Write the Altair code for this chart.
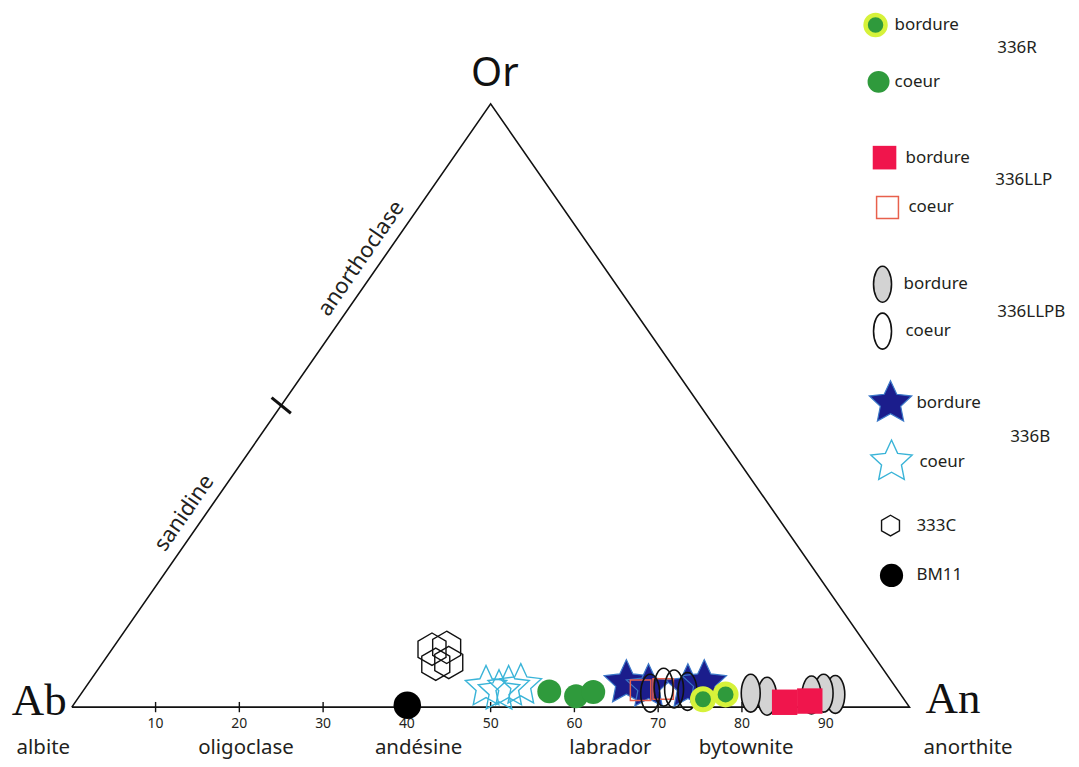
import math
import altair as alt
import pandas as pd

# ---------------- compositions (mol % An, mol % Or) ----------------
an_333C = [38.2, 39.8, 39.9, 41.3]
or_333C = [9.6, 9.9, 7.1, 7.4]
an_336B_coeur = [47.8, 49.7, 50.5, 51.8]
or_336B_coeur = [3.3, 2.6, 3.3, 3.6]
an_336R_coeur = [55.7, 59.3, 61.0]
or_336R_coeur = [2.6, 1.8, 2.5]
an_336B_bordure = [64.2, 67.2, 71.9, 73.5]
or_336B_bordure = [4.0, 3.3, 3.3, 4.0]
an_336LLP_coeur = [66.5, 69.1]
or_336LLP_coeur = [2.8, 3.0]
an_336LLPB_coeur = [67.9, 69.0, 70.4, 72.2]
or_336LLPB_coeur = [2.3, 3.3, 3.0, 2.6]
an_336R_bordure = [74.7, 77.0]
or_336R_bordure = [1.3, 2.1]
an_336LLPB_bordure = [90.1, 88.6, 87.3, 82.1, 79.9]
or_336LLPB_bordure = [2.1, 2.3, 2.0, 1.8, 2.3]
an_336LLP_bordure = [84.7, 87.6]
or_336LLP_bordure = [0.8, 1.0]
an_BM11 = [39.9]
or_BM11 = [0.3]

# ---------------- texts ----------------
tick_values = [10, 20, 30, 40, 50, 60, 70, 80, 90]
minerals = ["albite", "oligoclase", "andésine", "labrador", "bytownite", "anorthite"]
mineral_at = [-3.4, 20.8, 41.4, 64.3, 80.5, 107.0]          # along the Ab-An join
vertex_names = ["Ab", "An", "Or"]
edge_names = ["sanidine", "anorthoclase"]
edge_at_or = [32.2, 74.4]                                    # Or value along the Ab-Or join

legend_groups = ["336R bordure", "336R coeur", "336LLP bordure", "336LLP coeur",
                 "336LLPB bordure", "336LLPB coeur", "336B bordure", "336B coeur",
                 "333C", "BM11"]
legend_labels = ["bordure", "coeur", "bordure", "coeur", "bordure", "coeur",
                 "bordure", "coeur", "333C", "BM11"]
sample_names = ["336R", "336LLP", "336LLPB", "336B"]

# ---------------- layout (pixels / geometry, kept apart from the data) ----------------
W, H = 1066, 751
PX_PER_X = 8.4       # pixels per % along the base
PX_PER_Y = 6.05      # pixels per % of height
AB_PX, BASE_PY = 72, 708
OFF = 8
XMIN = -(AB_PX - OFF) / PX_PER_X
XMAX = XMIN + W / PX_PER_X
YMAX = (BASE_PY - OFF) / PX_PER_Y
YMIN = YMAX - H / PX_PER_Y

legend_sym_x = [878, 881, 887, 890, 885, 885, 893, 894, 893, 894]
legend_sym_y = [24, 81, 157, 207, 284, 331, 403, 462, 526, 576]
legend_txt_x = [897, 897, 908, 911, 906, 908, 919, 922, 919, 919]
sample_x = [1000, 998, 1000, 1013]
sample_y = [47, 179, 312, 437]

TXT = "#231f20"
SANS = "Noto Sans"


def star_path(inner=0.48):
    pts = []
    for k in range(10):
        a = math.radians(-90 + 36 * k)
        r = 1.0 if k % 2 == 0 else inner
        pts.append(f"{r * math.cos(a):.3f},{r * math.sin(a):.3f}")
    return "M" + "L".join(pts) + "Z"


HEX = "M0,-1L0.866,-0.5L0.866,0.5L0,1L-0.866,0.5L-0.866,-0.5Z"
ELL = ("M0,-1C0.276,-1 0.5,-0.552 0.5,0C0.5,0.552 0.276,1 0,1"
       "C-0.276,1 -0.5,0.552 -0.5,0C-0.5,-0.552 -0.276,-1 0,-1Z")
STAR = star_path()

styles = {
    "333C": dict(shape=HEX, filled=False, stroke="#111111", strokeWidth=1.4, size=1050, lsize=430),
    "336B coeur": dict(shape=STAR, filled=False, stroke="#3ab4d8", strokeWidth=1.4, size=1900, lsize=1900),
    "336R coeur": dict(shape="circle", filled=True, fill="#2f9a3c", size=576, lsize=484),
    "336B bordure": dict(shape=STAR, filled=True, fill="#1b1d8c", stroke="#3b78c8", strokeWidth=1.2, size=2200, lsize=2000),
    "336LLP coeur": dict(shape="square", filled=False, stroke="#e8604c", strokeWidth=1.5, size=420, lsize=480),
    "336LLPB coeur": dict(shape=ELL, filled=False, stroke="#111111", strokeWidth=1.6, size=1444, lsize=1300, lfill="white"),
    "336R bordure": dict(shape="circle", filled=True, fill="#2f9a3c", stroke="#d6f23a", strokeWidth=5, size=441, lsize=400),
    "336LLPB bordure": dict(shape=ELL, filled=True, fill="#d3d3d3", stroke="#111111", strokeWidth=1.6, size=1444, lsize=1300),
    "336LLP bordure": dict(shape="square", filled=True, fill="#f0154c", size=650, lsize=560),
    "BM11": dict(shape="circle", filled=True, fill="#000000", size=760, lsize=540),
}

series = {
    "333C": (an_333C, or_333C),
    "336B coeur": (an_336B_coeur, or_336B_coeur),
    "336R coeur": (an_336R_coeur, or_336R_coeur),
    "336B bordure": (an_336B_bordure, or_336B_bordure),
    "336LLP coeur": (an_336LLP_coeur, or_336LLP_coeur),
    "336LLPB coeur": (an_336LLPB_coeur, or_336LLPB_coeur),
    "336R bordure": (an_336R_bordure, or_336R_bordure),
    "336LLPB bordure": (an_336LLPB_bordure, or_336LLPB_bordure),
    "336LLP bordure": (an_336LLP_bordure, or_336LLP_bordure),
    "BM11": (an_BM11, or_BM11),
}

xs = alt.Scale(domain=[XMIN, XMAX], nice=False, zero=False)
ys = alt.Scale(domain=[YMIN, YMAX], nice=False, zero=False)
X = lambda f="x": alt.X(f"{f}:Q", scale=xs, axis=None)
Y = lambda f="y": alt.Y(f"{f}:Q", scale=ys, axis=None)
PROJ = dict(x="datum.An + datum.Or / 2", y="datum.Or")

layers = []

# triangle
tri = pd.DataFrame({"An": [0, 100, 0, 0], "Or": [0, 0, 100, 0], "o": [0, 1, 2, 3]})
layers.append(alt.Chart(tri).transform_calculate(**PROJ).mark_line(color="#111111", strokeWidth=1.6)
              .encode(x=X(), y=Y(), order="o:Q"))

# base ticks
tk = pd.DataFrame({"An": tick_values})
layers.append(alt.Chart(tk).transform_calculate(y1="-0.85", y2="0.85")
              .mark_rule(color="#111111", strokeWidth=1.4)
              .encode(x=X("An"), y=Y("y1"), y2="y2:Q"))
layers.append(alt.Chart(tk).transform_calculate(ty="-3.4")
              .mark_text(font=SANS, fontSize=14, color=TXT, baseline="alphabetic")
              .encode(x=X("An"), y=Y("ty"), text="An:Q"))

# sanidine / anorthoclase boundary tick on the Ab-Or join (Or = 50)
bt = pd.DataFrame({"An": [-1.8], "Or": [51.3], "An2": [1.8], "Or2": [48.7]})
layers.append(alt.Chart(bt).transform_calculate(
    x="datum.An + datum.Or / 2", y="datum.Or", x2="datum.An2 + datum.Or2 / 2", y2="datum.Or2")
    .mark_rule(color="#111111", strokeWidth=3).encode(x=X(), y=Y(), x2="x2:Q", y2="y2:Q"))

# mineral names under the base
mn = pd.DataFrame({"name": minerals, "s": mineral_at})
layers.append(alt.Chart(mn).transform_calculate(h="-7.7")
              .mark_text(font=SANS, fontSize=20.5, color=TXT, baseline="alphabetic")
              .encode(x=X("s"), y=Y("h"), text="name:N"))

# edge names along Ab-Or
en = pd.DataFrame({"name": edge_names, "Or": edge_at_or})
layers.append(alt.Chart(en).transform_calculate(x="datum.Or / 2 - 2.7", y="datum.Or")
              .mark_text(font=SANS, fontSize=22, color=TXT, angle=304.6, baseline="middle")
              .encode(x=X(), y=Y(), text="name:N"))

# vertex names
vn = pd.DataFrame({"name": vertex_names, "s": [-3.9, 105.2, 50.5], "h": [-1.3, -0.9, 103.0]})
layers.append(alt.Chart(vn[vn.name != "Or"]).mark_text(font="Liberation Serif", fontSize=45, color="#111111",
                                                       baseline="alphabetic")
              .encode(x=X("s"), y=Y("h"), text="name:N"))
layers.append(alt.Chart(vn[vn.name == "Or"]).mark_text(font=SANS, fontSize=40, color="#111111",
                                                       baseline="alphabetic")
              .encode(x=X("s"), y=Y("h"), text="name:N"))

# data points
for g, (a, o) in series.items():
    st = styles[g]
    kw = dict(shape=st["shape"], filled=st["filled"], size=st["size"], opacity=1)
    if "fill" in st:
        kw["fill"] = st["fill"]
    if "stroke" in st:
        kw["stroke"] = st["stroke"]
        kw["strokeWidth"] = st["strokeWidth"]
    df = pd.DataFrame({"An": a, "Or": o})
    layers.append(alt.Chart(df).transform_calculate(**PROJ).mark_point(**kw).encode(x=X(), y=Y()))

# legend
for i, g in enumerate(legend_groups):
    st = styles[g]
    kw = dict(shape=st["shape"], filled=st["filled"] or "lfill" in st, size=st["lsize"], opacity=1)
    if "fill" in st:
        kw["fill"] = st["fill"]
    if "lfill" in st:
        kw["fill"] = st["lfill"]
    if "stroke" in st:
        kw["stroke"] = st["stroke"]
        kw["strokeWidth"] = min(st["strokeWidth"], 4.5)
    d = pd.DataFrame({"px": [legend_sym_x[i] - OFF], "py": [legend_sym_y[i] - OFF]})
    layers.append(alt.Chart(d).mark_point(**kw).encode(
        x=alt.X("px:Q", scale=None, axis=None), y=alt.Y("py:Q", scale=None, axis=None)))

lt = pd.DataFrame({"t": legend_labels,
                   "px": [v - OFF for v in legend_txt_x],
                   "py": [v - OFF for v in legend_sym_y]})
layers.append(alt.Chart(lt).mark_text(font=SANS, fontSize=17, color=TXT, align="left", baseline="middle")
              .encode(x=alt.X("px:Q", scale=None, axis=None), y=alt.Y("py:Q", scale=None, axis=None), text="t:N"))
sn = pd.DataFrame({"t": sample_names,
                   "px": [v - OFF for v in sample_x],
                   "py": [v - OFF for v in sample_y]})
layers.append(alt.Chart(sn).mark_text(font=SANS, fontSize=17, color=TXT, align="left", baseline="middle")
              .encode(x=alt.X("px:Q", scale=None, axis=None), y=alt.Y("py:Q", scale=None, axis=None), text="t:N"))

chart = alt.layer(*layers).properties(
    width=W, height=H, autosize=alt.AutoSizeParams(type="none"), padding=0, background="white"
).configure_view(stroke=None)

chart.save("out.html", embed_options={"renderer": "svg", "actions": False})
